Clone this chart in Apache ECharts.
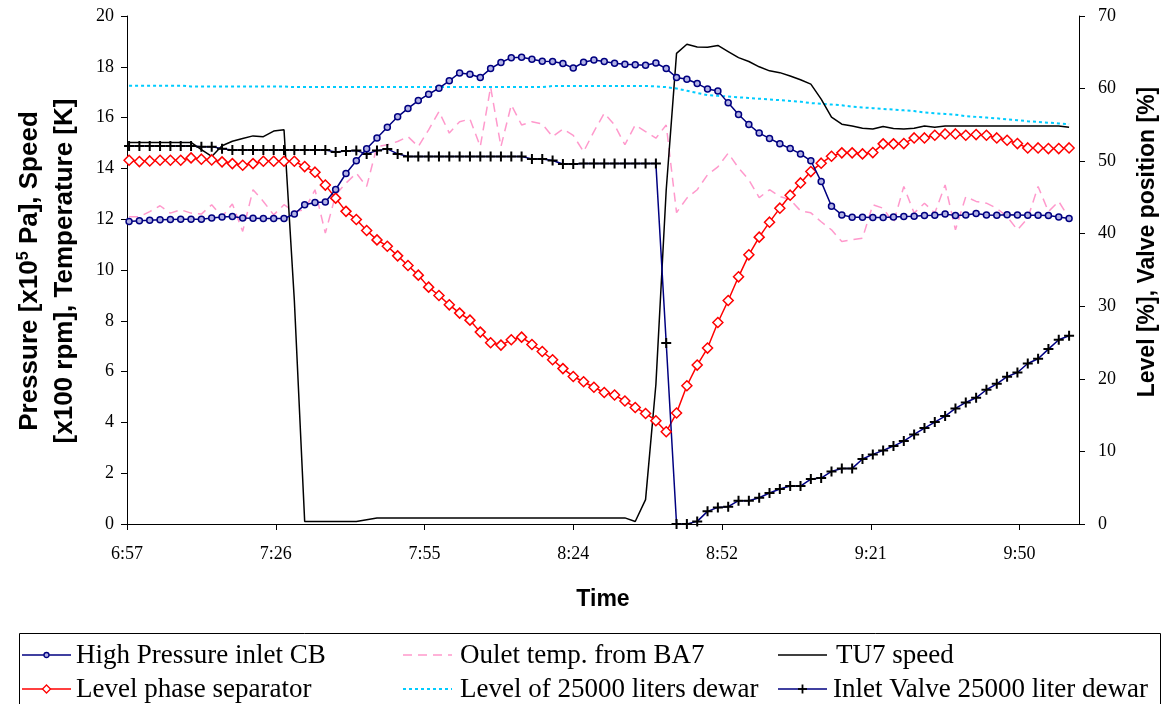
<!DOCTYPE html>
<html><head><meta charset="utf-8">
<script src="https://cdn.jsdelivr.net/npm/echarts@6/dist/echarts.min.js"></script>
<style>html,body{margin:0;padding:0;background:#fff}#c{width:1166px;height:704px}</style>
</head><body><div id="c"></div>
<script>
// sample times (every 2 min)
const times = ["6:58","7:00","7:02","7:04","7:06","7:08","7:10","7:12","7:14","7:16",
"7:18","7:20","7:22","7:24","7:26","7:28","7:30","7:32","7:34","7:36",
"7:38","7:40","7:42","7:44","7:46","7:48","7:50","7:52","7:54","7:56",
"7:58","8:00","8:02","8:04","8:06","8:08","8:10","8:12","8:14","8:16",
"8:18","8:20","8:22","8:24","8:26","8:28","8:30","8:32","8:34","8:36",
"8:38","8:40","8:42","8:44","8:46","8:48","8:50","8:52","8:54","8:56",
"8:58","9:00","9:02","9:04","9:06","9:08","9:10","9:12","9:14","9:16",
"9:18","9:20","9:22","9:24","9:26","9:28","9:30","9:32","9:34","9:36",
"9:38","9:40","9:42","9:44","9:46","9:48","9:50","9:52","9:54","9:56",
"9:58","10:00"];

// High Pressure inlet CB [x10^5 Pa] (left axis)
const pressure = [11.91,11.94,11.96,11.98,11.99,12.0,12.0,12.0,12.05,12.09,
12.11,12.05,12.04,12.03,12.03,12.03,12.2,12.57,12.66,12.68,
13.17,13.8,14.3,14.77,15.2,15.62,16.03,16.36,16.67,16.92,
17.16,17.45,17.76,17.71,17.58,17.93,18.17,18.36,18.38,18.3,
18.22,18.21,18.13,17.95,18.18,18.27,18.21,18.14,18.1,18.08,
18.06,18.15,17.93,17.58,17.51,17.34,17.13,17.05,16.58,16.12,
15.73,15.39,15.18,14.97,14.78,14.57,14.3,13.48,12.51,12.17,
12.08,12.08,12.07,12.07,12.09,12.11,12.12,12.15,12.16,12.2,
12.15,12.17,12.22,12.17,12.16,12.18,12.17,12.16,12.16,12.15,
12.09,12.03];

// Oulet temp. from BA7 [K] (left axis)
const outletTemp = [12.1,12.1,12.3,12.53,12.24,12.37,12.24,12.2,12.57,12.1,
12.6,11.52,13.16,12.7,12.17,12.57,12.3,12.37,13.16,11.45,
12.96,13.42,13.81,13.29,14.86,14.93,15.06,15.25,14.86,15.52,
16.24,15.39,15.84,15.94,14.86,17.2,14.86,16.5,15.71,15.84,
15.75,15.25,15.55,15.3,14.66,15.45,16.17,15.71,14.93,15.71,
15.45,15.19,15.71,12.26,12.83,13.16,13.75,14.06,14.6,14.02,
13.55,12.85,13.16,12.89,12.77,12.33,12.25,11.9,11.58,11.12,
11.19,11.25,12.57,12.43,11.85,13.29,12.24,12.63,12.24,13.35,
11.58,12.89,12.7,12.63,12.43,12.1,11.58,12.04,13.29,12.3,
12.7,12.04];

// TU7 speed [x100 rpm] (left axis)
const tu7Speed = [15.02,15.02,15.02,15.02,15.02,15.02,15.02,14.74,14.47,14.89,
15.07,15.18,15.28,15.25,15.47,15.52,8.8,0.1,0.1,0.1,
0.1,0.1,0.1,0.17,0.24,0.24,0.24,0.24,0.24,0.24,
0.24,0.24,0.24,0.24,0.24,0.24,0.24,0.24,0.24,0.24,
0.24,0.24,0.24,0.24,0.24,0.24,0.24,0.24,0.24,0.1,
0.96,5.49,13.16,18.53,18.89,18.78,18.77,18.84,18.6,18.36,
18.21,18.0,17.84,17.77,17.64,17.49,17.32,16.73,16.02,15.74,
15.67,15.58,15.55,15.65,15.57,15.55,15.58,15.67,15.62,15.67,
15.67,15.67,15.67,15.67,15.67,15.67,15.67,15.67,15.67,15.67,
15.67,15.62];

// Level phase separator [%] (right axis)
const levelSep = [50.13,49.94,50.03,50.13,50.13,50.13,50.45,50.27,50.17,49.9,
49.66,49.44,49.66,49.99,49.99,49.99,49.99,49.25,48.48,46.7,
44.9,43.08,41.95,40.44,39.15,38.28,36.95,35.62,34.29,32.64,
31.49,30.2,29.06,28.09,26.44,24.97,24.65,25.38,25.75,24.74,
23.77,22.63,21.41,20.33,19.6,18.84,18.12,17.77,16.94,16.06,
15.23,14.23,12.71,15.29,19.05,21.9,24.24,27.77,30.8,34.06,
37.09,39.53,41.59,43.52,45.31,47.0,48.56,49.72,50.68,51.14,
51.14,51.0,51.18,52.38,52.38,52.42,53.2,53.2,53.57,53.75,
53.75,53.57,53.66,53.57,53.2,52.88,52.42,51.82,51.82,51.73,
51.73,51.82];

// Level of 25000 liters dewar [%] (right axis)
const levelDewar = [60.4,60.4,60.4,60.4,60.4,60.4,60.3,60.3,60.3,60.3,
60.3,60.3,60.3,60.3,60.3,60.3,60.2,60.2,60.2,60.2,
60.2,60.2,60.2,60.2,60.2,60.2,60.2,60.2,60.2,60.2,
60.2,60.2,60.2,60.2,60.2,60.2,60.2,60.2,60.2,60.2,
60.2,60.35,60.35,60.35,60.35,60.35,60.35,60.35,60.35,60.35,
60.35,60.3,60.2,60.0,59.7,59.4,59.1,59.0,58.9,58.8,
58.7,58.6,58.5,58.4,58.3,58.2,58.0,57.9,57.8,57.7,
57.5,57.4,57.3,57.2,57.1,57.0,56.9,56.7,56.6,56.5,
56.4,56.2,56.1,56.0,55.9,55.75,55.65,55.5,55.4,55.3,
55.2,55.1];

// Inlet Valve 25000 liter dewar [%] (right axis)
const inletValve = [52.1,52.1,52.1,52.1,52.1,52.1,52.1,52.0,52.0,51.7,
51.55,51.55,51.55,51.55,51.55,51.55,51.55,51.55,51.55,51.55,
51.25,51.4,51.45,51.0,51.45,51.69,51.0,50.63,50.63,50.63,
50.63,50.63,50.63,50.63,50.63,50.63,50.63,50.63,50.63,50.31,
50.31,50.08,49.6,49.62,49.66,49.66,49.66,49.66,49.66,49.66,
49.66,49.66,24.93,0,0,0.36,1.74,2.29,2.39,3.21,
3.21,3.62,4.27,4.82,5.23,5.23,6.2,6.33,7.25,7.66,
7.66,8.95,9.59,10.14,10.74,11.43,12.34,13.22,14.05,14.87,
15.92,16.75,17.39,18.5,19.32,20.3,20.88,22.12,22.77,24.1,
25.38,25.93];

const leftTicks = [0,2,4,6,8,10,12,14,16,18,20];
const rightTicks = [0,10,20,30,40,50,60,70];

// time axis: minutes after 6:57.6 (Excel day fraction 0.29), step 0.02 day
const AXIS_START = 417.6, STEP = 28.8, AXIS_SPAN = 184.32;
function toMin(s){const p=s.split(':');return (+p[0])*60+(+p[1]);}
const xs = times.map(t => toMin(t) - AXIS_START);
function pair(arr){return arr.map((v,i)=>[xs[i],v]);}
function fmt(v){const m=Math.floor(AXIS_START+v+1e-6);return Math.floor(m/60)+':'+String(m%60).padStart(2,'0');}

const serif = '"Liberation Serif","Times New Roman",serif';
const sans = '"Liberation Sans",Arial,sans-serif';
const plus = 'path://M4,0h2v4h4v2h-4v4h-2v-4h-4v-2h4z';

const S = {
  hp:   {name:'High Pressure inlet CB', color:'#000080', fill:'#b4b4e6', width:1.5, dash:null},
  sep:  {name:'Level phase separator', color:'#ff0000', fill:'#ffffff', width:1.5, dash:null},
  temp: {name:'Oulet temp. from BA7', color:'#ff99cc', width:1.5, dash:[9,6]},
  dew:  {name:'Level of 25000 liters dewar', color:'#00ccff', width:2, dash:[3,3]},
  tu7:  {name:'TU7 speed', color:'#000000', width:1.5, dash:null},
  valve:{name:'Inlet Valve 25000 liter dewar', color:'#000080', width:1.5, dash:null}
};

// legend drawn as graphic entries (Excel-style 3x2 legend)
const legendLayout = [
  ['hp', 22, 655, 'circle', 76], ['sep', 22, 689, 'diamond', 76],
  ['temp', 403, 655, null, 460], ['dew', 403, 689, null, 460],
  ['tu7', 778, 655, null, 836], ['valve', 778, 689, 'plus', 833]
];
const legendGraphics = [];
legendLayout.forEach(([k,x,y,mark,tx])=>{
  const s = S[k];
  legendGraphics.push({type:'line', shape:{x1:x, y1:y, x2:x+49, y2:y},
    style:{stroke:s.color, lineWidth:s.width, lineDash:s.dash||null}});
  if(mark==='circle') legendGraphics.push({type:'circle', shape:{cx:x+24.5, cy:y, r:2.5},
    style:{fill:s.fill, stroke:s.color, lineWidth:1.3}});
  if(mark==='diamond') legendGraphics.push({type:'polygon', shape:{points:[[x+24.5,y-4],[x+28.5,y],[x+24.5,y+4],[x+20.5,y]]},
    style:{fill:'#fff', stroke:s.color, lineWidth:1.3}});
  if(mark==='plus') legendGraphics.push({type:'group', children:[
    {type:'rect', shape:{x:x+23.6, y:y-4.5, width:1.8, height:9}, style:{fill:'#000'}},
    {type:'rect', shape:{x:x+20, y:y-0.9, width:9, height:1.8}, style:{fill:'#000'}}]});
  legendGraphics.push({type:'text', x:tx, y:y+1,
    style:{text:s.name, fontFamily:serif, fontSize:27, fill:'#000', align:'left', verticalAlign:'middle'}});
});

const chart = echarts.init(document.getElementById('c'), null, {renderer:'canvas'});
chart.setOption({
  animation:false,
  backgroundColor:'#fff',
  grid:{left:127, right:87, top:16, bottom:180},
  xAxis:{type:'value', min:0, max:AXIS_SPAN, interval:STEP,
    axisLine:{lineStyle:{color:'#000',width:1}},
    axisTick:{show:true,length:6,lineStyle:{color:'#000'}},
    splitLine:{show:false},
    axisLabel:{formatter:fmt, fontFamily:serif, fontSize:18, color:'#000', margin:21, showMaxLabel:false},
    name:'Time', nameLocation:'middle', nameGap:64,
    nameTextStyle:{fontFamily:sans, fontWeight:'bold', fontSize:23, color:'#000'}
  },
  yAxis:[
    {type:'value', min:leftTicks[0], max:leftTicks[leftTicks.length-1], interval:leftTicks[1]-leftTicks[0], position:'left',
     axisLine:{show:true,lineStyle:{color:'#000'}}, axisTick:{show:true,length:6,lineStyle:{color:'#000'}},
     splitLine:{show:false},
     axisLabel:{fontFamily:serif, fontSize:18, color:'#000', margin:13}},
    {type:'value', min:rightTicks[0], max:rightTicks[rightTicks.length-1], interval:rightTicks[1]-rightTicks[0], position:'right',
     axisLine:{show:true,lineStyle:{color:'#000'}}, axisTick:{show:true,length:6,lineStyle:{color:'#000'}},
     splitLine:{show:false},
     axisLabel:{fontFamily:serif, fontSize:18, color:'#000', margin:19}}
  ],
  graphic:[
    {type:'text', x:30, y:271, rotation:Math.PI/2,
     style:{text:'Pressure [x10{s|5} Pa], Speed', fontFamily:sans, fontWeight:'bold', fontSize:26, fill:'#000',
       align:'center', verticalAlign:'middle',
       rich:{s:{fontFamily:sans, fontWeight:'bold', fontSize:16, fill:'#000', padding:[0,0,12,0]}}}},
    {type:'text', x:65, y:271, rotation:Math.PI/2,
     style:{text:'[x100 rpm], Temperature [K]', fontFamily:sans, fontWeight:'bold', fontSize:26, fill:'#000',
       align:'center', verticalAlign:'middle'}},
    {type:'text', x:1148, y:242, rotation:Math.PI/2,
     style:{text:'Level [%], Valve position [%]', fontFamily:sans, fontWeight:'bold', fontSize:23, fill:'#000',
       align:'center', verticalAlign:'middle'}},
    {type:'rect', shape:{x:19.5, y:633.5, width:1141, height:80}, style:{fill:'none', stroke:'#000', lineWidth:1}, z:-1}
  ].concat(legendGraphics),
  series:[
    {name:S.hp.name, type:'line', yAxisIndex:0, data:pair(pressure),
     symbol:'circle', symbolSize:6, showSymbol:true,
     lineStyle:{color:S.hp.color, width:S.hp.width}, itemStyle:{color:S.hp.fill, borderColor:S.hp.color, borderWidth:1.5}, z:5},
    {name:S.sep.name, type:'line', yAxisIndex:1, data:pair(levelSep),
     symbol:'diamond', symbolSize:10,
     lineStyle:{color:S.sep.color, width:S.sep.width}, itemStyle:{color:'#ffffff', borderColor:S.sep.color, borderWidth:1.5}, z:4},
    {name:S.temp.name, type:'line', yAxisIndex:0, data:pair(outletTemp),
     symbol:'none', lineStyle:{color:S.temp.color, width:S.temp.width, type:S.temp.dash}, itemStyle:{color:S.temp.color}, z:2},
    {name:S.dew.name, type:'line', yAxisIndex:1, data:pair(levelDewar),
     symbol:'none', lineStyle:{color:S.dew.color, width:S.dew.width, type:S.dew.dash}, itemStyle:{color:S.dew.color}, z:2},
    {name:S.tu7.name, type:'line', yAxisIndex:0, data:pair(tu7Speed),
     symbol:'none', lineStyle:{color:S.tu7.color, width:S.tu7.width}, itemStyle:{color:'#000'}, z:3},
    {name:S.valve.name, type:'line', yAxisIndex:1, data:pair(inletValve),
     symbol:plus, symbolSize:10,
     lineStyle:{color:S.valve.color, width:S.valve.width}, itemStyle:{color:'#000000', borderWidth:0}, z:4}
  ]
});
</script></body></html>
